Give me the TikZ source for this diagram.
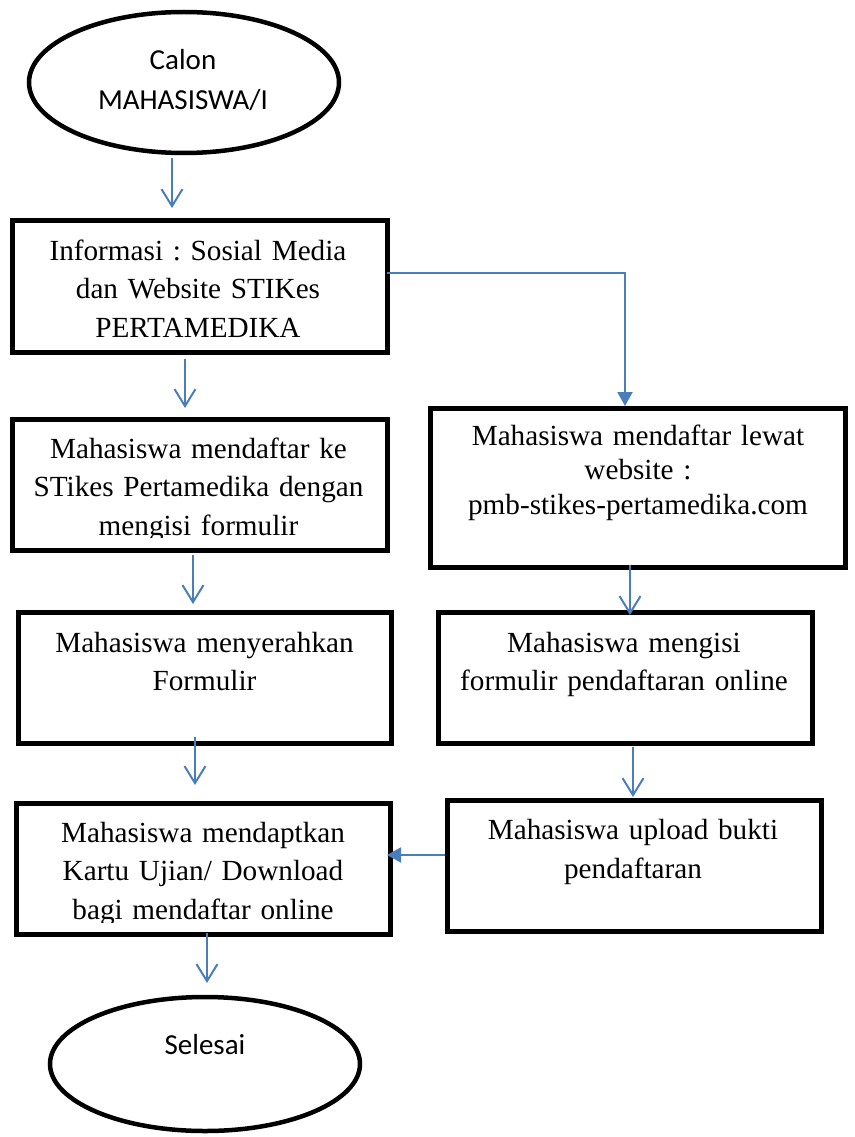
\documentclass[tikz,border=0pt]{standalone}
\usepackage{fontspec}
\setmainfont{Liberation Serif}
\newfontfamily\calfont{Carlito}
\usetikzlibrary{arrows.meta,shapes.geometric}
\definecolor{flowblue}{RGB}{74,126,187}
\frenchspacing
\tikzset{
  box/.style={draw=black, line width=5pt, rectangle, inner sep=0pt, outer sep=0pt},
  oval/.style={draw=black, line width=4.5pt, ellipse, inner sep=0pt, outer sep=0pt},
  txt/.style={anchor=base, inner sep=0pt, outer sep=0pt, text width=400pt, align=center,
              font=\frenchspacing\fontsize{29.2pt}{38.5pt}\selectfont},
  etxt/.style={anchor=base, inner sep=0pt, outer sep=0pt, text width=300pt, align=center,
               font=\calfont\fontsize{29pt}{40pt}\selectfont},
  arr/.style={draw=flowblue, line width=2pt, -{Straight Barb[length=17pt,width=21pt]}},
  arrf/.style={draw=flowblue, line width=2pt, -{Triangle[length=14pt,width=15pt]}}
}
\begin{document}
\begin{tikzpicture}[x=1pt,y=-1pt]
\useasboundingbox (0,0) rectangle (854,1137);

% left column
\node[oval, minimum width=310pt, minimum height=141pt] (e1) at (184,82.5) {};
\node[etxt] (et1) at (183,70) {Calon\\MAHASISWA/I};

\node[box, minimum width=375pt, minimum height=132pt] (b1) at (199.5,286) {};
\node[txt] (t1) at (198,260) {Informasi : Sosial Media\\dan Website STIKes\\PERTAMEDIKA};

\node[box, minimum width=375pt, minimum height=131pt] (b2) at (199.5,484.5) {};
\begin{scope}
\clip (b2.north west) rectangle ([yshift=13pt]b2.south east);
\node[txt] (t2) at (198.5,458) {Mahasiswa mendaftar ke\\STikes Pertamedika dengan\\mengisi formulir};
\end{scope}

\node[box, minimum width=373pt, minimum height=131pt] (b3) at (204.5,677.5) {};
\node[txt, font=\frenchspacing\fontsize{29.2pt}{38pt}\selectfont] (t3) at (204.5,652) {Mahasiswa menyerahkan\\Formulir};

\node[box, minimum width=374pt, minimum height=131pt] (b4) at (203,868.5) {};
\begin{scope}
\clip (b4.north west) rectangle ([yshift=12pt]b4.south east);
\node[txt] (t4) at (203,842) {Mahasiswa mendaptkan\\Kartu Ujian/ Download\\bagi mendaftar online};
\end{scope}

\node[oval, minimum width=310pt, minimum height=134pt] (e2) at (205,1064) {};
\node[etxt] (et2) at (205,1054) {Selesai};

% right column
\node[box, minimum width=415pt, minimum height=159pt] (r1) at (637.5,487.5) {};
\node[txt, font=\frenchspacing\fontsize{29.2pt}{34.5pt}\selectfont] (u1) at (638,445) {Mahasiswa mendaftar lewat\\website :\\pmb-stikes-pertamedika.com};

\node[box, minimum width=374pt, minimum height=131pt] (r2) at (625,677.5) {};
\node[txt, font=\frenchspacing\fontsize{29.2pt}{38pt}\selectfont] (u2) at (624,652) {Mahasiswa mengisi\\formulir pendaftaran online};

\node[box, minimum width=374pt, minimum height=131pt] (r3) at (634,865.5) {};
\node[txt, font=\frenchspacing\fontsize{29.2pt}{39pt}\selectfont] (u3) at (633,839) {Mahasiswa upload bukti\\pendaftaran};

% connectors
\draw[arr] ([xshift=-12pt,yshift=-5pt]e1.south) -- ([xshift=-27.5pt,yshift=12pt]b1.north);
\draw[arr] ([xshift=-14.5pt,yshift=-7pt]b1.south) -- ([xshift=-14.5pt,yshift=11pt]b2.north);
\draw[arr] ([xshift=-6.5pt,yshift=-5pt]b2.south) -- ([xshift=-11.5pt,yshift=8pt]b3.north);
\draw[arr] ([xshift=-9.5pt,yshift=6pt]b3.south) -- ([xshift=-8pt,yshift=18pt]b4.north);
\draw[arr] ([xshift=4pt,yshift=1pt]b4.south) -- ([xshift=2pt,yshift=14pt]e2.north);

\draw[arrf] ([yshift=13pt]b1.east) -| ([xshift=-12.5pt,yshift=2pt]r1.north);
\draw[arr] ([xshift=-7.5pt,yshift=2pt]r1.south) -- ([xshift=5pt,yshift=-3pt]r2.north);
\draw[arr] ([xshift=8pt,yshift=-4pt]r2.south) -- ([xshift=-1pt,yshift=3pt]r3.north);
\draw[arrf] ([xshift=-2pt,yshift=10.5pt]r3.west) -- ([xshift=-3pt,yshift=13.5pt]b4.east);
\end{tikzpicture}
\end{document}
